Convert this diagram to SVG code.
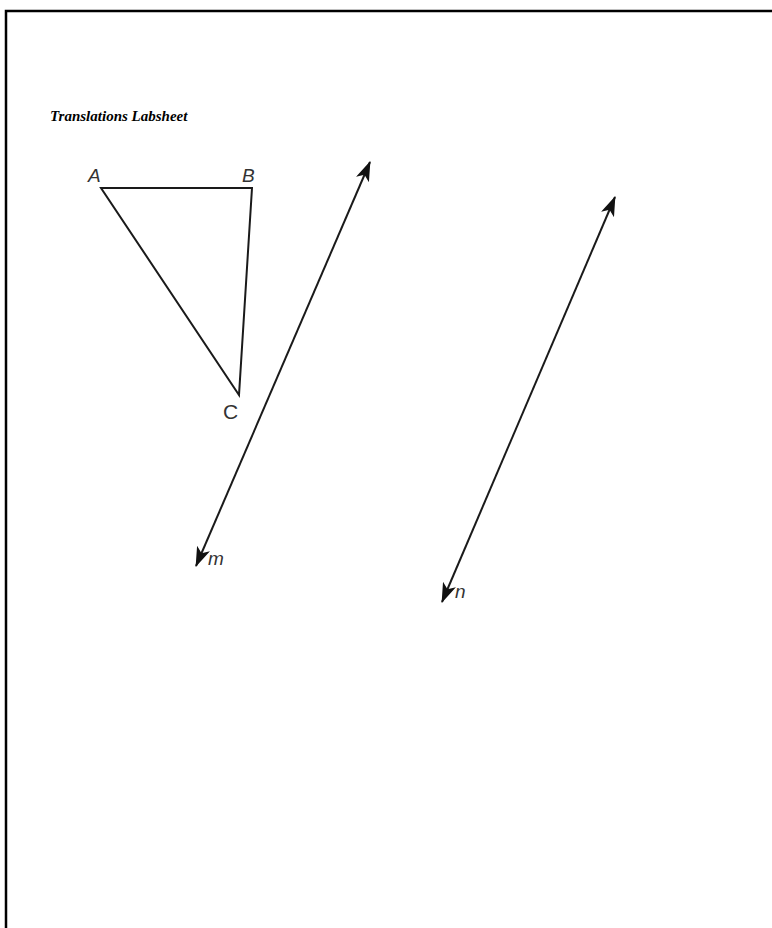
<svg xmlns="http://www.w3.org/2000/svg" width="772" height="928" viewBox="0 0 772 928">
<style>
.ln{stroke:#1a1a1a;stroke-width:2;fill:none}
.lbl{font-family:"Liberation Sans",Arial,sans-serif;fill:#333}
.it{font-style:italic}
</style>
<defs>
<marker id="ah" viewBox="0 0 20 14" refX="19" refY="7" markerWidth="20" markerHeight="14" markerUnits="userSpaceOnUse" orient="auto-start-reverse">
<path d="M0,0 L20,7 L0,14 L5,7 Z" fill="#111"/>
</marker>
</defs>
<rect width="772" height="928" fill="#fff"/>
<rect x="6" y="11" width="800" height="960" fill="none" stroke="#000" stroke-width="2.5"/>
<text x="50" y="121" font-family="'Liberation Serif','Times New Roman',serif" font-weight="bold" font-style="italic" font-size="15" fill="#000">Translations Labsheet</text>
<g id="triangle">
<polygon class="ln" points="101,188 252,188 239,395"/>
<text class="lbl it" x="88" y="182" font-size="19">A</text>
<text class="lbl it" x="242" y="182" font-size="19">B</text>
<text class="lbl" x="223" y="419" font-size="21">C</text>
</g>
<g id="connectors">
<g id="line-m">
<line class="ln" x1="196" y1="566" x2="370" y2="162" marker-start="url(#ah)" marker-end="url(#ah)"/>
<text class="lbl it" x="208" y="565" font-size="19">m</text>
</g>
<g id="line-n">
<line class="ln" x1="442" y1="602" x2="615" y2="197" marker-start="url(#ah)" marker-end="url(#ah)"/>
<text class="lbl it" x="455" y="598" font-size="19">n</text>
</g>
</g>
</svg>
